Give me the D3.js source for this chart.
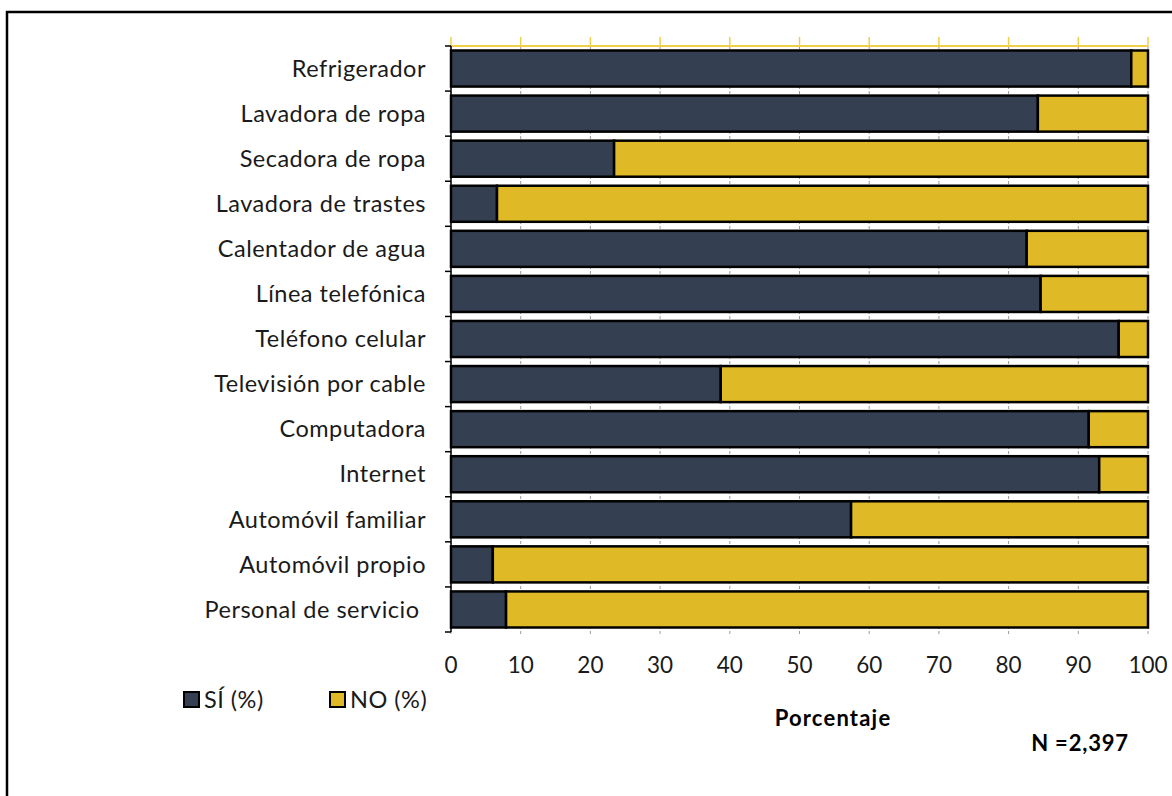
<!DOCTYPE html>
<html>
<head>
<meta charset="utf-8">
<script src="https://cdn.jsdelivr.net/npm/d3@7"></script>
<style>
  body { margin: 0; background: #fff; }
  svg { display: block; font-family: Lato, "Open Sans", sans-serif; }
  .cat { font-size: 23.5px; letter-spacing: 0.5px; fill: #1a1a1a; white-space: pre; }
  .xlab { font-size: 22.5px; fill: #1a1a1a; }
  .grid line { stroke: #9a9a9a; stroke-dasharray: 3 2; stroke-width: 1; }
</style>
</head>
<body>
<svg width="1172" height="796"></svg>
<script>
// categories, top to bottom
var categories = ["Refrigerador", "Lavadora de ropa", "Secadora de ropa", "Lavadora de trastes",
  "Calentador de agua", "Línea telefónica", "Teléfono celular", "Televisión por cable",
  "Computadora", "Internet", "Automóvil familiar", "Automóvil propio", "Personal de servicio "];

// percentage answering yes
var siValues = [97.6, 84.2, 23.4, 6.6, 82.6, 84.6, 95.8, 38.7, 91.5, 93.0, 57.4, 6.0, 7.9];
// remainder answering no
var noValues = siValues.map(function(v) { return +(100 - v).toFixed(1); });

var xTicks = [0, 10, 20, 30, 40, 50, 60, 70, 80, 90, 100];
var seriesNames = ["SÍ (%)", "NO (%)"];
var colors = ["#343f51", "#dfba26"];

var svg = d3.select("svg");

// outer frame
svg.append("rect")
  .attr("x", 7).attr("y", 12)
  .attr("width", 1200).attr("height", 820)
  .attr("fill", "none").attr("stroke", "#000").attr("stroke-width", 2.5);

var plotLeft = 451, plotRight = 1148, plotTop = 46, plotBottom = 632;

var x = d3.scaleLinear().domain([0, 100]).range([plotLeft, plotRight]);
var y = d3.scaleBand().domain(categories).range([plotTop, plotBottom]).paddingInner(0.2).paddingOuter(0.1);

// dashed grid
svg.append("g").attr("class", "grid")
  .selectAll("line").data(xTicks).enter().append("line")
  .attr("x1", function(d) { return x(d); }).attr("x2", function(d) { return x(d); })
  .attr("y1", plotTop).attr("y2", plotBottom + 4);

// top yellow line with ticks
var topAxis = svg.append("g");
topAxis.append("line")
  .attr("x1", plotLeft).attr("x2", plotRight).attr("y1", plotTop).attr("y2", plotTop)
  .attr("stroke", "#f0cf4a").attr("stroke-width", 2);
topAxis.selectAll("line.tk").data(xTicks).enter().append("line")
  .attr("class", "tk")
  .attr("x1", function(d) { return x(d); }).attr("x2", function(d) { return x(d); })
  .attr("y1", plotTop - 9).attr("y2", plotTop)
  .attr("stroke", "#f0cf4a").attr("stroke-width", 1.5);

// stacked data
var rows = categories.map(function(c, i) { return { cat: c, si: siValues[i], no: noValues[i] }; });
var stack = d3.stack().keys(["si", "no"])(rows);

svg.append("g").selectAll("g").data(stack).enter().append("g")
  .attr("fill", function(d, i) { return colors[i]; })
  .selectAll("rect").data(function(d) { return d; }).enter().append("rect")
  .attr("x", function(d) { return x(d[0]); })
  .attr("y", function(d) { return y(d.data.cat); })
  .attr("width", function(d) { return x(d[1]) - x(d[0]); })
  .attr("height", y.bandwidth())
  .attr("stroke", "#000").attr("stroke-width", 2.5);

// left axis line and ticks at band boundaries
var boundaries = d3.range(categories.length + 1).map(function(i) { return plotTop + i * y.step(); });
svg.append("line")
  .attr("x1", plotLeft).attr("x2", plotLeft).attr("y1", plotTop).attr("y2", plotBottom)
  .attr("stroke", "#000").attr("stroke-width", 1.5);
svg.append("g").selectAll("line").data(boundaries).enter().append("line")
  .attr("x1", plotLeft - 6).attr("x2", plotLeft).attr("y1", function(d) { return d; }).attr("y2", function(d) { return d; })
  .attr("stroke", "#000").attr("stroke-width", 1.5);

// category labels
svg.append("g").selectAll("text").data(categories).enter().append("text")
  .attr("class", "cat")
  .attr("x", 426)
  .attr("y", function(d) { return y(d) + y.bandwidth() / 2; })
  .attr("dy", "0.35em")
  .attr("text-anchor", "end")
  .text(function(d) { return d; });

// x tick labels
svg.append("g").selectAll("text").data(xTicks).enter().append("text")
  .attr("class", "xlab")
  .attr("x", function(d) { return x(d); })
  .attr("y", 673)
  .attr("text-anchor", "middle")
  .text(function(d) { return d; });

// legend
var legend = svg.append("g").selectAll("g").data(seriesNames).enter().append("g")
  .attr("transform", function(d, i) { return "translate(" + (184 + i * 146) + ",692)"; });
legend.append("rect")
  .attr("width", 15).attr("height", 15)
  .attr("fill", function(d, i) { return colors[i]; })
  .attr("stroke", "#000").attr("stroke-width", 2);
legend.append("text")
  .attr("x", 20).attr("y", 7.5).attr("dy", "0.35em")
  .attr("class", "cat")
  .text(function(d) { return d; });

svg.append("text")
  .attr("x", 833).attr("y", 726)
  .attr("text-anchor", "middle")
  .attr("font-weight", "bold").attr("font-size", 22)
  .attr("letter-spacing", "1.2px")
  .text("Porcentaje");

svg.append("text")
  .attr("x", 1080).attr("y", 751)
  .attr("text-anchor", "middle")
  .attr("font-weight", "bold").attr("font-size", 22)
  .attr("letter-spacing", "0.8px")
  .text("N =2,397");
</script>
</body>
</html>
